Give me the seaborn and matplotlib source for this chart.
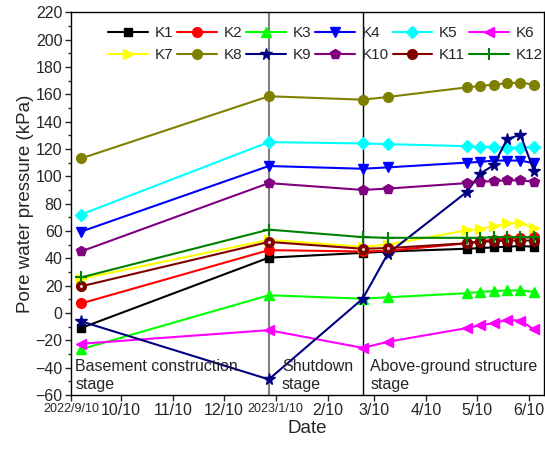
import matplotlib
matplotlib.use("Agg")
import matplotlib.pyplot as plt
import seaborn as sns
import pandas as pd
import numpy as np

dates = ["2022-09-16", "2023-01-06", "2023-03-03", "2023-03-18", "2023-05-04",
         "2023-05-12", "2023-05-20", "2023-05-28", "2023-06-05", "2023-06-13"]

K1 = [-11, 40.5, 44, 45, 47, 47.5, 48, 48.5, 49, 48.5]
K2 = [7, 46, 45, 45.5, 51, 52.5, 53.5, 54.5, 55, 55.5]
K3 = [-26.5, 13, 10.5, 11.5, 14.5, 15.5, 16, 16.5, 16.5, 15.5]
K4 = [59.5, 107.5, 105.5, 106.5, 110, 110.5, 111.5, 111.5, 111.5, 109.5]
K5 = [72, 125, 124, 123.5, 122, 121.5, 121.5, 121, 121, 121.5]
K6 = [-22.5, -12.5, -25.5, -21, -11, -9, -7.5, -5, -5.5, -12]
K7 = [25, 53.5, 48.5, 50, 60.5, 61.5, 63.5, 65.5, 66, 62]
K8 = [113, 158.5, 156, 158, 165, 166, 167, 168, 168.5, 167]
K9 = [-6, -48.5, 10.5, 43.5, 88.5, 102, 108, 127, 130.5, 104]
K10 = [45, 95, 90, 91, 95, 96, 96.5, 97, 97, 96]
K11 = [19.5, 52, 47, 47.5, 51, 52, 52.5, 53, 53, 53]
K12 = [26, 61, 55.5, 55, 55, 55, 55.5, 55.5, 55.5, 55.5]

series_names = ["K1", "K2", "K3", "K4", "K5", "K6", "K7", "K8", "K9", "K10", "K11", "K12"]
series_values = [K1, K2, K3, K4, K5, K6, K7, K8, K9, K10, K11, K12]

colors = ["black", "red", "#00ff00", "blue", "cyan", "magenta", "yellow", "#808000",
          "#000080", "purple", "#800000", "green"]
markers = ["s", "o", "^", "v", "D", "<", ">", "o", "*", "p", "o", "+"]
msizes = [6, 7, 7, 7, 6.5, 7, 7, 7, 8.5, 7.5, 7, 8]

tick_dates = ["2022-09-10", "2022-10-10", "2022-11-10", "2022-12-10", "2023-01-10",
              "2023-02-10", "2023-03-10", "2023-04-10", "2023-05-10", "2023-06-10"]
tick_labels = ["2022/9/10", "10/10", "11/10", "12/10", "2023/1/10",
               "2/10", "3/10", "4/10", "5/10", "6/10"]

stage_lines = ["2023-01-06", "2023-03-03"]
stage_texts = ["Basement construction\nstage", "Shutdown\nstage", "Above-ground structure\nstage"]

sns.set_theme(style="ticks")
plt.rcParams["font.family"] = ["Liberation Sans", "DejaVu Sans"]

rows = []
for name, vals in zip(series_names, series_values):
    for d, v in zip(dates, vals):
        rows.append({"Date": pd.Timestamp(d), "Value": v, "Series": name})
df = pd.DataFrame(rows)

fig = plt.figure(figsize=(5.45, 4.5), dpi=100)
ax = fig.add_axes([0.130, 0.122, 0.868, 0.851])

handles = []
for name, c, m, ms in zip(series_names, colors, markers, msizes):
    sub = df[df["Series"] == name]
    mew = 1.5 if m == "+" else 1
    sns.lineplot(data=sub, x="Date", y="Value", ax=ax, color=c, marker=m,
                 markersize=ms, markeredgecolor=c, markeredgewidth=mew,
                 linewidth=1.5, legend=False)
    handles.append(ax.lines[-1])
    if name == "K11":
        sns.lineplot(data=sub, x="Date", y="Value", ax=ax, color="#f0d0d0",
                     marker="o", markersize=2.2, markeredgewidth=0,
                     linewidth=0, legend=False)

ax.axvline(pd.Timestamp(stage_lines[0]), color="#808080", linewidth=1.5, zorder=0.5)
ax.axvline(pd.Timestamp(stage_lines[1]), color="black", linewidth=1.0, zorder=0.5)

ax.set_xlim(pd.Timestamp("2022-09-10"), pd.Timestamp("2023-06-19"))
ax.set_ylim(-60, 220)
ax.set_yticks(np.arange(-60, 221, 20))
ax.yaxis.set_minor_locator(matplotlib.ticker.MultipleLocator(10))
ax.set_xticks([pd.Timestamp(t) for t in tick_dates])
ax.set_xticklabels(tick_labels)
for lbl in ax.get_xticklabels():
    if lbl.get_text().startswith("20"):
        lbl.set_fontsize(9)
    else:
        lbl.set_fontsize(11.5)
ax.tick_params(axis="y", labelsize=11.5, direction="out", length=4, width=1, pad=2)
ax.tick_params(axis="y", which="minor", direction="out", length=2.5, width=1)
ax.tick_params(axis="x", direction="out", length=4, width=1, pad=2)
for s in ax.spines.values():
    s.set_linewidth(1.0)
    s.set_color("black")

ax.set_xlabel("Date", fontsize=13.5, labelpad=1)
ax.set_ylabel("Pore water pressure (kPa)", fontsize=13.5, labelpad=1)

ax.text(0.009, 0.008, stage_texts[0], transform=ax.transAxes, fontsize=11.5,
        ha="left", va="bottom", linespacing=1.25)
ax.text(0.446, 0.008, stage_texts[1], transform=ax.transAxes, fontsize=11.5,
        ha="left", va="bottom", linespacing=1.25)
ax.text(0.633, 0.008, stage_texts[2], transform=ax.transAxes, fontsize=11.5,
        ha="left", va="bottom", linespacing=1.25)

# legend filled row by row: 2 rows x 6 columns
order = []
for col in range(6):
    order.append(col)
    order.append(col + 6)
ax.legend(handles=[handles[i] for i in order], labels=[series_names[i] for i in order],
          ncol=6, loc="upper right",
          bbox_to_anchor=(1.02, 0.992), frameon=False, fontsize=11,
          handlelength=2.6, handletextpad=0.45, columnspacing=0.25,
          labelspacing=0.55, borderaxespad=0.3)

fig.savefig("out.png", dpi=100)
